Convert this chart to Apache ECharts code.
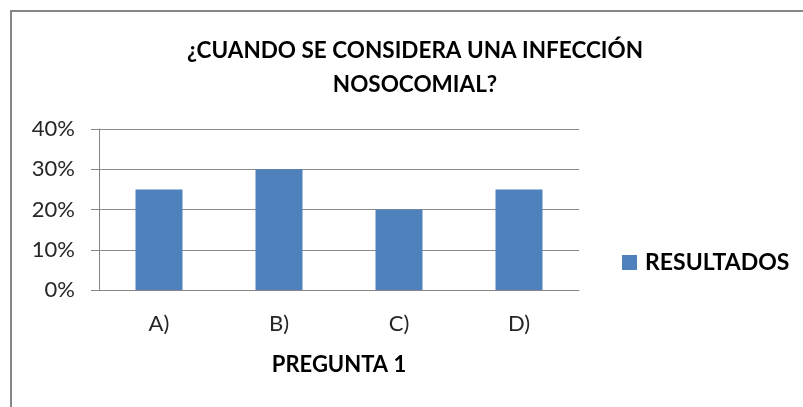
<!DOCTYPE html>
<html>
<head>
<meta charset="utf-8">
<script src="https://cdn.jsdelivr.net/npm/echarts@6/dist/echarts.min.js"></script>
<style>
  html, body { margin: 0; padding: 0; background: #fff; }
  #chart { width: 803px; height: 407px; }
</style>
</head>
<body>
<div id="chart"></div>
<script>
const categories = ['A)', 'B)', 'C)', 'D)']
const resultados = [0.25, 0.30, 0.20, 0.25]
const seriesName = 'RESULTADOS'
const titleText = '¿CUANDO SE CONSIDERA UNA INFECCIÓN\nNOSOCOMIAL?'
const xAxisName = 'PREGUNTA 1'

const font = 'Lato, "Open Sans", sans-serif'
const chart = echarts.init(document.getElementById('chart'))
const option = {
  animation: false,
  backgroundColor: '#fff',
  textStyle: { fontFamily: font },
  graphic: [
    {
      type: 'rect',
      shape: { x: 11, y: 11, width: 820, height: 420 },
      style: { fill: 'none', stroke: '#868686', lineWidth: 2 },
    },
  ],
  title: {
    text: titleText,
    left: 410,
    top: 29,
    textAlign: 'center',
    textStyle: {
      fontFamily: font,
      fontSize: 22.5,
      fontWeight: 'bold',
      color: '#000',
      lineHeight: 34,
    },
  },
  legend: {
    data: [seriesName],
    left: 617,
    top: 246,
    icon: 'rect',
    itemWidth: 15,
    itemHeight: 15,
    itemGap: 8,
    textStyle: { fontFamily: font, fontSize: 23, fontWeight: 'bold', color: '#000', padding: [0, 0, 0, 3] },
  },
  grid: { left: 99, right: 224, top: 129, bottom: 117 },
  xAxis: {
    type: 'category',
    data: categories,
    name: xAxisName,
    nameLocation: 'middle',
    nameGap: 64,
    nameTextStyle: { fontFamily: font, fontSize: 22, fontWeight: 'bold', color: '#000' },
    axisLine: { lineStyle: { color: '#868686', width: 1 } },
    axisTick: { show: false },
    axisLabel: { fontSize: 22, color: '#262626', margin: 23 },
  },
  yAxis: {
    type: 'value',
    min: 0,
    max: 0.4,
    interval: 0.1,
    axisLine: { show: true, lineStyle: { color: '#868686', width: 1 } },
    axisTick: { show: true, length: 8, lineStyle: { color: '#868686' } },
    splitLine: { lineStyle: { color: '#8c8c8c', width: 1 } },
    axisLabel: {
      fontSize: 22,
      color: '#262626',
      margin: 24,
      formatter: (v) => Math.round(v * 100) + '%',
    },
  },
  series: [
    {
      name: seriesName,
      type: 'bar',
      data: resultados,
      barWidth: 47,
      itemStyle: { color: '#4F81BD' },
    },
  ],
}
chart.setOption(option)
</script>
</body>
</html>
